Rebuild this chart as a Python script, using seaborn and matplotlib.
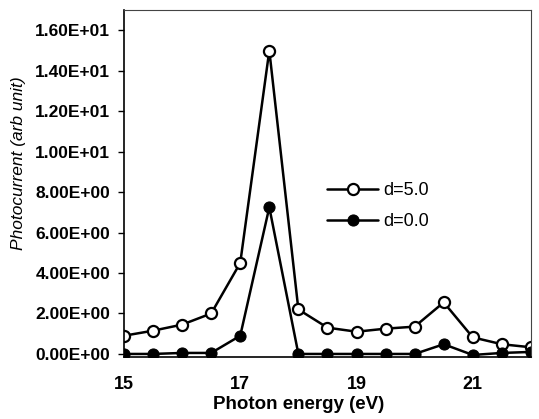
import numpy as np
import pandas as pd
import matplotlib
matplotlib.use("Agg")
import matplotlib.pyplot as plt
import seaborn as sns

# Data
energy = [15, 15.5, 16, 16.5, 17, 17.5, 18, 18.5, 19, 19.5, 20, 20.5, 21, 21.5, 22]
d50 = [0.9, 1.15, 1.45, 2.0, 4.5, 15.0, 2.2, 1.3, 1.1, 1.25, 1.35, 2.55, 0.82, 0.48, 0.33]
d00 = [0.0, 0.0, 0.05, 0.05, 0.9, 7.25, 0.0, 0.0, 0.0, 0.0, 0.0, 0.48, -0.05, 0.05, 0.1]
y_ticks = [0, 2, 4, 6, 8, 10, 12, 14, 16]
x_ticks = [15, 17, 19, 21]

sns.set_theme(style="white")
plt.rcParams.update({
    'font.family': ['Liberation Sans', 'DejaVu Sans'],
    'text.color': 'black',
    'axes.labelcolor': 'black',
    'xtick.color': 'black',
    'ytick.color': 'black',
})

df = pd.DataFrame({"energy": energy + energy,
                   "value": d50 + d00,
                   "series": ["d=5.0"] * len(energy) + ["d=0.0"] * len(energy)})

fig = plt.figure(figsize=(5.39, 4.19), dpi=100)
ax = fig.add_axes([0.230, 0.148, 0.755, 0.828])

sns.lineplot(data=df[df.series == "d=5.0"], x="energy", y="value", ax=ax,
             color="black", lw=1.8, marker="o", markersize=8,
             markerfacecolor="white", markeredgecolor="black", markeredgewidth=1.6,
             label="d=5.0")
sns.lineplot(data=df[df.series == "d=0.0"], x="energy", y="value", ax=ax,
             color="black", lw=1.8, marker="o", markersize=8,
             markerfacecolor="black", markeredgecolor="black",
             label="d=0.0")

ax.set_xlim(15, 22)
ax.set_ylim(-0.15, 17)
ax.set_xticks(x_ticks)
ax.set_xticklabels([str(t) for t in x_ticks], fontsize=13, fontweight="bold")
ax.set_yticks(y_ticks)
ax.set_yticklabels([f"{t:.2E}" for t in y_ticks], fontsize=12.5, fontweight="bold")
ax.tick_params(axis="y", which="both", left=True, length=4, width=1, direction="out", pad=6)
ax.tick_params(axis="x", bottom=False, pad=8)

for s in ["left", "bottom"]:
    ax.spines[s].set_color("black")
    ax.spines[s].set_linewidth(1.2)
for s in ["top", "right"]:
    ax.spines[s].set_color("#444444")
    ax.spines[s].set_linewidth(0.8)

ax.set_xlabel("Photon energy (eV)", fontsize=13.5, fontweight="bold")
ax.xaxis.set_label_coords(0.43, -0.112)
ax.set_ylabel("Photocurrent (arb unit)", fontsize=12.5, style="italic")
ax.yaxis.set_label_coords(-0.24, 0.56)

ax.legend(loc="center left", bbox_to_anchor=(0.46, 0.435), frameon=False,
          fontsize=13, handlelength=2.8, labelspacing=0.75, handletextpad=0.3)

fig.savefig("out.png", dpi=100)
